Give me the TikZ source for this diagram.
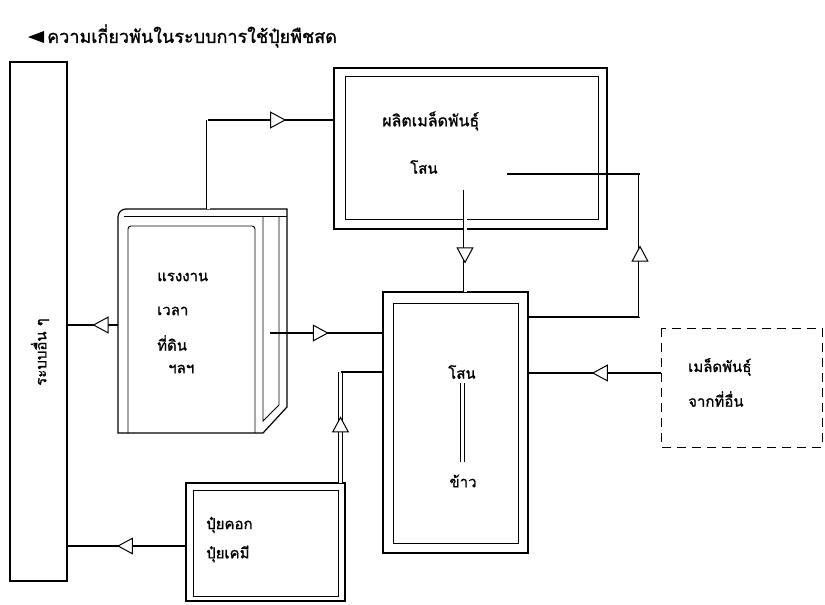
\documentclass[tikz,border=0pt]{standalone}
\usepackage{fontspec}
\newfontfamily\thai[Script=Thai,FakeBold=1.2]{Loma}
\usetikzlibrary{arrows.meta,decorations.markings}
\tikzset{
  ln/.style={line width=1.2pt},
  thin/.style={line width=0.9pt},
  pipe/.style={line width=0.8pt,double=white,double distance=3pt},
  dbox/.style={draw,line width=1pt,dash pattern=on 9pt off 6pt},
  lbl/.style={font=\thai\fontsize{15}{17}\selectfont,inner sep=0pt,anchor=west},
  tri/.style={postaction={decorate},decoration={markings,mark=at position #1 with {\arrow[line width=1pt]{Triangle[open,length=16pt,width=17pt,fill=white]}}}}
}
\begin{document}
\begin{tikzpicture}[x=1pt,y=-1pt]
\useasboundingbox (0,0) rectangle (825,605);
% title
\fill (28,37) -- (44,31) -- (44,43) -- cycle;
\node[lbl,font=\thai\fontsize{18}{20}\selectfont] (title) at (47,36) {ความเกี่ยวพันในระบบการใช้ปุ๋ยพืชสด};
% left bar
\draw[ln] (10,62) rectangle (67,581);
\coordinate (barT) at (67,325);
\coordinate (barB) at (67,546);
\node[lbl,anchor=center,rotate=90] (bar) at (40,352) {ระบบอื่น ๆ};
% book box
\draw[ln] (263,433) -- (118,433) -- (118,217) to[out=90,in=180] (126,209) -- (287,209) -- (287,407) -- cycle;
\draw[thin] (124,216) -- (287,216);
\draw[thin,rounded corners=3pt] (128,433) -- (128,226) -- (255,226) -- (255,433);
\draw[thin] (263,216) -- (263,421) -- (279,405) -- (279,216);
\node[lbl] (b1) at (157,277) {แรงงาน};
\node[lbl] (b2) at (157,311) {เวลา};
\node[lbl] (b3) at (157,343) {ที่ดิน};
\node[lbl] (b4) at (168,369) {ฯลฯ};
\coordinate (bookL) at (118,325);
\coordinate (bookTop) at (208,209);
\coordinate (bookR) at (270,333);
% top box
\draw[ln] (334,68) rectangle (607,229);
\draw[thin] (345,76) rectangle (598,219);
\node[lbl,font=\thai\fontsize{16}{18}\selectfont] (t1) at (382,121) {ผลิตเมล็ดพันธุ์};
\node[lbl] (t2) at (410,167) {โสน};
\coordinate (topL) at (334,120);
\coordinate (topIn) at (507,174);
\coordinate (pipeTop) at (465,190);
% middle box
\draw[ln] (383,292) rectangle (528,553);
\draw[thin] (393,303) rectangle (518,543);
\node[lbl,anchor=center] (m1) at (462,372) {โสน};
\node[lbl,anchor=center] (m2) at (463,481) {ข้าว};
\draw[pipe,line width=0.9pt,double distance=3pt] (462.5,383) -- (462.5,462);
\coordinate (midTop) at (465,292);
\coordinate (midL1) at (383,333);
\coordinate (midL2) at (383,372);
\coordinate (midR1) at (528,317);
\coordinate (midR2) at (528,373);
% dashed box
\draw[dbox] (661,328) rectangle (822,447);
\node[lbl] (d1) at (688,367) {เมล็ดพันธุ์};
\node[lbl] (d2) at (688,399) {จากที่อื่น};
\coordinate (dashL) at (661,373);
% bottom box
\draw[ln] (186,483) rectangle (345,601);
\draw[thin] (193,490) rectangle (338,596);
\node[lbl] (f1) at (206,525) {ปุ๋ยคอก};
\node[lbl] (f2) at (206,554) {ปุ๋ยเคมี};
\coordinate (botL) at (186,546);
\coordinate (botTop) at (340.5,483);
% connectors
\draw[ln,tri=0.5] (bookL) -- (barT);
\draw[ln,tri=0.58] (botL) -- (barB);
\draw[pipe] (bookTop) -- (bookTop |- topL);
\draw[ln,tri=0.62] (bookTop |- topL) -- (topL);
\draw[ln,tri=0.52] (bookR) -- (midL1);
\draw[pipe] (pipeTop) -- (midTop);
\path[tri=0.72] (pipeTop) -- (midTop);
\draw[pipe] (botTop) -- (botTop |- midL2);
\path[tri=0.6] (botTop) -- (botTop |- midL2);
\draw[ln] (botTop |- midL2) -- (midL2);
\draw[ln] (midR1) -- (midR1 -| 640,0);
\draw[pipe] (640,317) -- (640,174);
\path[tri=0.5] (640,317) -- (640,174);
\draw[ln] (640,174) -- (topIn);
\draw[ln,tri=0.52] (dashL) -- (midR2);
\end{tikzpicture}
\end{document}
